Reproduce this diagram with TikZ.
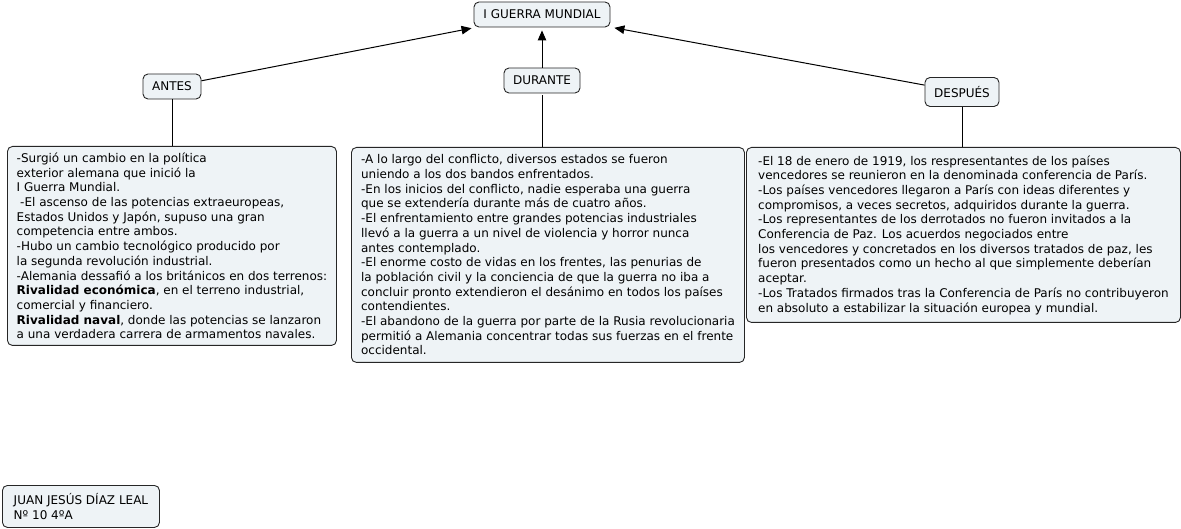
\documentclass[tikz,border=0pt]{standalone}
\usepackage{fontspec}
\setmainfont{DejaVu Sans}
\usetikzlibrary{arrows.meta}
\definecolor{fondocaja}{RGB}{238,243,246}
\begin{document}
\begin{tikzpicture}[x=1pt,y=-1pt,>={Triangle[length=10pt,width=8.5pt]},
    concepto/.style={draw=black!85,fill=fondocaja,rounded corners=5pt,line width=0.9pt,inner sep=0pt,font=\fontsize{12}{14}\selectfont},
    texto/.style={concepto,anchor=north west,align=left,font=\fontsize{12}{14.7}\selectfont},
    enlace/.style={line width=1pt}]
    \useasboundingbox (0,0) rectangle (1181,529);
    % conceptos principales
    \node[concepto,minimum width=136pt,minimum height=25pt](guerra) at (542,14.5){I GUERRA MUNDIAL};
    \node[concepto,minimum width=58pt,minimum height=25pt](antes) at (172,86.5){ANTES};
    \node[concepto,minimum width=76pt,minimum height=25pt](durante) at (542,80.5){DURANTE};
    \node[concepto,minimum width=74pt,minimum height=29pt](despues) at (962,92){DESPUÉS};
    % cajas de texto
    \node[texto,minimum width=329pt,minimum height=199pt](izq) at (7,146){-Surgió un cambio en la política\\
    exterior alemana que inició la\\
    I Guerra Mundial.\\
    \hspace*{3.5pt}-El ascenso de las potencias extraeuropeas,\\
    Estados Unidos y Japón, supuso una gran\\
    competencia entre ambos.\\
    -Hubo un cambio tecnológico producido por\\
    la segunda revolución industrial.\\
    -Alemania dessafió a los británicos en dos terrenos:\\
    \textbf{Rivalidad económica}, en el terreno industrial,\\
    comercial y financiero.\\
    \textbf{Rivalidad naval}, donde las potencias se lanzaron\\
    a una verdadera carrera de armamentos navales.};
    \node[texto,minimum width=393pt,minimum height=215pt](centro) at (351,147){-A lo largo del conflicto, diversos estados se fueron\\
    uniendo a los dos bandos enfrentados.\\
    -En los inicios del conflicto, nadie esperaba una guerra\\
    que se extendería durante más de cuatro años.\\
    -El enfrentamiento entre grandes potencias industriales\\
    llevó a la guerra a un nivel de violencia y horror nunca\\
    antes contemplado.\\
    -El enorme costo de vidas en los frentes, las penurias de\\
    la población civil y la conciencia de que la guerra no iba a\\
    concluir pronto extendieron el desánimo en todos los países\\
    contendientes.\\
    -El abandono de la guerra por parte de la Rusia revolucionaria\\
    permitió a Alemania concentrar todas sus fuerzas en el frente\\
    occidental.};
    \node[texto,minimum width=434pt,minimum height=175pt](der) at (746,147){-El 18 de enero de 1919, los respresentantes de los países\\
    vencedores se reunieron en la denominada conferencia de París.\\
    -Los países vencedores llegaron a París con ideas diferentes y\\
    compromisos, a veces secretos, adquiridos durante la guerra.\\
    -Los representantes de los derrotados no fueron invitados a la\\
    Conferencia de Paz. Los acuerdos negociados entre\\
    los vencedores y concretados en los diversos tratados de paz, les\\
    fueron presentados como un hecho al que simplemente deberían\\
    aceptar.\\
    -Los Tratados firmados tras la Conferencia de París no contribuyeron\\
    en absoluto a estabilizar la situación europea y mundial.};
    \node[texto,minimum width=157pt,minimum height=42pt](autor) at (2,485){JUAN JESÚS DÍAZ LEAL\\Nº 10 4ºA};
    % conectores
    \draw[enlace,->,shorten >=4pt](antes)--(guerra);
    \draw[enlace,->,shorten >=3pt](durante)--(guerra);
    \draw[enlace,->,shorten >=4pt](despues)--(guerra);
    \draw[enlace](antes.south)--(antes.south|-izq.north);
    \draw[enlace,shorten <=2pt](durante.south)--(durante.south|-centro.north);
    \draw[enlace](despues.south)--(despues.south|-der.north);
\end{tikzpicture}
\end{document}
